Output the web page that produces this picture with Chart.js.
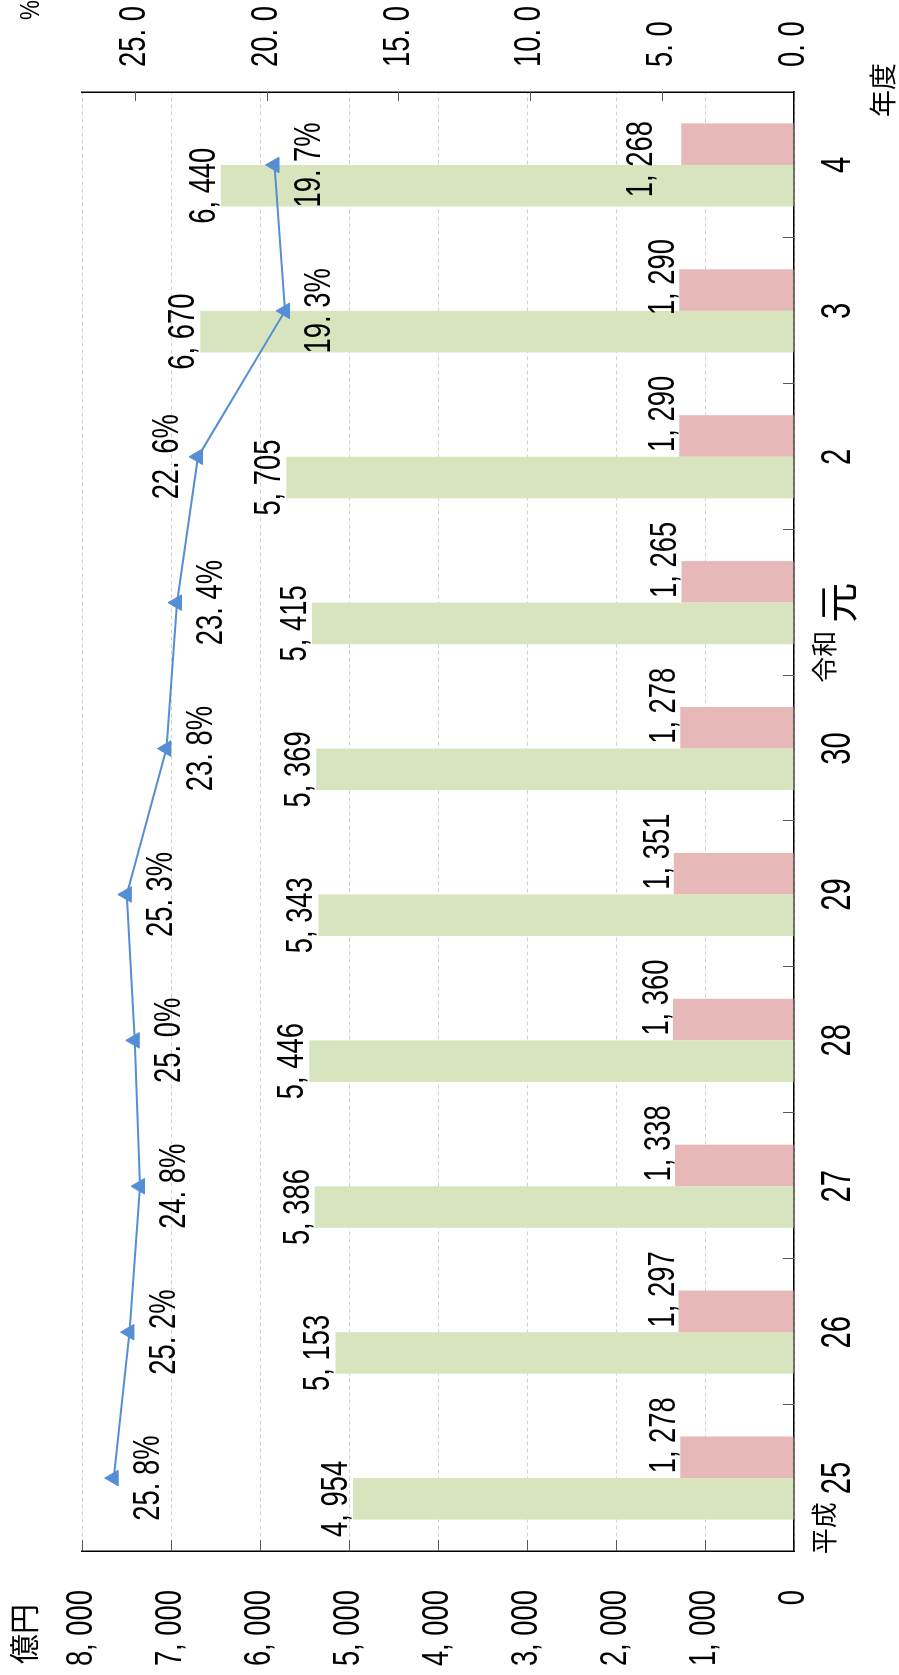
<!DOCTYPE html>
<html lang="ja">
<head>
<meta charset="utf-8">
<title>年度別推移</title>
<script src="https://cdn.jsdelivr.net/npm/chart.js@4.4.1/dist/chart.umd.min.js"></script>
<style>
  html, body { margin: 0; padding: 0; background: #fff; overflow: hidden; }
  body { width: 899px; height: 1675px; position: relative; }
  /* the chart is laid out landscape and turned a quarter to the left */
  #wrap {
    position: absolute; left: 0; top: 0;
    width: 1675px; height: 899px;
    transform-origin: 0 0;
    transform: translateY(1675px) rotate(-90deg);
  }
</style>
</head>
<body>
<div id="wrap"><canvas id="chart" width="1675" height="899"></canvas></div>
<script>
// data
const categories = ['平成25', '26', '27', '28', '29', '30', '令和元', '2', '3', '4'];
const totalValues = [4954, 5153, 5386, 5446, 5343, 5369, 5415, 5705, 6670, 6440];
const subValues = [1278, 1297, 1338, 1360, 1351, 1278, 1265, 1290, 1290, 1268];
const ratioValues = [25.8, 25.2, 24.8, 25.0, 25.3, 23.8, 23.4, 22.6, 19.3, 19.7];
const yenMax = 8000, yenStep = 1000;
const ratioMax = 27, ratioStep = 5;

const FONT = "'Liberation Sans', Arial, sans-serif";
const CJK = "'Noto Sans CJK JP', sans-serif";
const ERA = /^(平成|令和)/;
const NARROW = 0.74;   // digits in the picture are set condensed

const GREEN = '#d7e4bd', PINK = '#e6b9b8', BLUE = '#558ed5';

const withGap = v => v.toLocaleString('en-US').replace(',', ', ');
const pct = v => v.toFixed(1).replace('.', '. ') + '%';

// label nudges for the pink bars (index -> [dx, dy])
const subNudge = { 8: [13, 0], 9: [-15, -24] };

// text drawn squeezed horizontally
function squeezed(ctx, text, x, y, size, align, baseline, sx, family) {
  ctx.save();
  ctx.font = `${size}px ${family || FONT}`;
  ctx.textAlign = align;
  ctx.textBaseline = baseline;
  ctx.translate(x, y);
  ctx.scale(sx, 1);
  ctx.fillText(text, 0, 0);
  ctx.restore();
}

const extras = {
  id: 'extras',
  beforeDatasetsDraw(chart) {
    const { ctx, chartArea: a, scales: { x, y, y2 } } = chart;
    ctx.save();
    ctx.strokeStyle = '#595959';
    ctx.lineWidth = 1;
    ctx.beginPath();
    const w = x.getPixelForValue(1) - x.getPixelForValue(0);
    for (let i = 1; i < categories.length; i++) {
      const px = Math.round(x.getPixelForValue(i) - w / 2) + 0.5;
      ctx.moveTo(px, a.bottom); ctx.lineTo(px, a.bottom - 11);
    }
    y.ticks.forEach(t => {
      const py = Math.round(y.getPixelForValue(t.value)) + 0.5;
      ctx.moveTo(a.left, py); ctx.lineTo(a.left + 11, py);
    });
    y2.ticks.forEach(t => {
      const py = Math.round(y2.getPixelForValue(t.value)) + 0.5;
      ctx.moveTo(a.right, py); ctx.lineTo(a.right - 9, py);
    });
    ctx.stroke();
    ctx.restore();
  },
  afterDatasetsDraw(chart) {
    const ctx = chart.ctx;
    ctx.save();
    ctx.fillStyle = '#000';
    chart.getDatasetMeta(0).data.forEach((bar, i) => {
      squeezed(ctx, withGap(totalValues[i]), bar.x, bar.y - 6, 37, 'center', 'alphabetic', NARROW);
    });
    chart.getDatasetMeta(1).data.forEach((bar, i) => {
      const [dx, dy] = subNudge[i] || [22, 0];
      squeezed(ctx, withGap(subValues[i]), bar.x + dx, bar.y - 5 + dy, 37, 'center', 'alphabetic', NARROW);
    });
    chart.getDatasetMeta(2).data.forEach((pt, i) => {
      const dy = i === 7 ? -30 : 35;
      squeezed(ctx, pct(ratioValues[i]), pt.x, pt.y + dy, 37, 'center', 'middle', NARROW);
    });
    ctx.restore();
  },
  afterDraw(chart) {
    const { ctx, chartArea: a, scales: { x, y, y2 } } = chart;
    ctx.save();
    ctx.fillStyle = '#000';
    // value axis labels
    y.ticks.forEach(t => {
      const txt = t.value === 0 ? '0' : withGap(t.value);
      squeezed(ctx, txt, a.left - 39, y.getPixelForValue(t.value), 37, 'right', 'middle', NARROW);
    });
    y2.ticks.forEach(t => {
      const txt = t.value.toFixed(1).replace('.', '. ');
      squeezed(ctx, txt, a.right + 25, y2.getPixelForValue(t.value), 37, 'left', 'middle', NARROW);
    });
    // year labels with smaller era prefixes
    categories.forEach((c, i) => {
      const main = c.replace(ERA, '');
      const cx = x.getPixelForValue(i);
      const cjk = /^\D+$/.test(main);
      const sx = cjk ? 1 : 0.68;
      squeezed(ctx, main, cx, 838, cjk ? 40 : 43, 'center', 'middle', sx, cjk ? CJK : FONT);
      const m = c.match(ERA);
      if (!m) return;
      ctx.font = `${cjk ? 40 : 43}px ${cjk ? CJK : FONT}`;
      const mainW = ctx.measureText(main).width * sx;
      squeezed(ctx, m[1], cx - mainW / 2 - 8, 824, 26, 'right', 'middle', 1, CJK);
    });
    squeezed(ctx, '億円', 41, 24, 30, 'center', 'middle', 1, CJK);
    squeezed(ctx, '%', 1665, 31, 28, 'center', 'middle', 0.8);
    squeezed(ctx, '年度', 1585, 883, 27, 'center', 'middle', 1, CJK);
    ctx.restore();
  }
};

new Chart(document.getElementById('chart').getContext('2d'), {
  data: {
    labels: categories,
    datasets: [
      {
        type: 'bar', label: '全体', data: totalValues, yAxisID: 'y', order: 1,
        backgroundColor: GREEN, borderWidth: 0,
        barPercentage: 1, categoryPercentage: 0.57
      },
      {
        type: 'bar', label: '内数', data: subValues, yAxisID: 'y', order: 1,
        backgroundColor: PINK, borderWidth: 0,
        barPercentage: 1, categoryPercentage: 0.57
      },
      {
        type: 'line', label: '比率', data: ratioValues, yAxisID: 'y2', order: 0,
        borderColor: BLUE, borderWidth: 2, tension: 0,
        pointStyle: 'triangle', pointRadius: 9,
        pointBackgroundColor: BLUE, pointBorderColor: BLUE, pointBorderWidth: 1
      }
    ]
  },
  options: {
    responsive: false,
    devicePixelRatio: 1,
    animation: false,
    layout: { padding: { top: 82, left: 0, right: 0, bottom: 0 } },
    plugins: { legend: { display: false }, tooltip: { enabled: false } },
    scales: {
      x: {
        offset: true,
        grid: { display: false },
        border: { display: true, color: '#000', width: 1.5 },
        ticks: { display: false, autoSkip: false },
        afterFit(s) { s.height = 105; }
      },
      y: {
        position: 'left', min: 0, max: yenMax,
        ticks: { stepSize: yenStep, display: false },
        grid: { color: '#d0d0d0', lineWidth: 1, drawTicks: false },
        border: { color: '#000', width: 1.5, dash: [4, 3] },
        afterFit(s) { s.width = 124; }
      },
      y2: {
        position: 'right', min: 0, max: ratioMax,
        afterBuildTicks(s) { s.ticks = s.ticks.filter(t => t.value % ratioStep === 0); },
        ticks: { stepSize: ratioStep, display: false },
        grid: { drawOnChartArea: false, drawTicks: false },
        border: { color: '#000', width: 1.5 },
        afterFit(s) { s.width = 92; }
      }
    }
  },
  plugins: [extras]
});
</script>
</body>
</html>
